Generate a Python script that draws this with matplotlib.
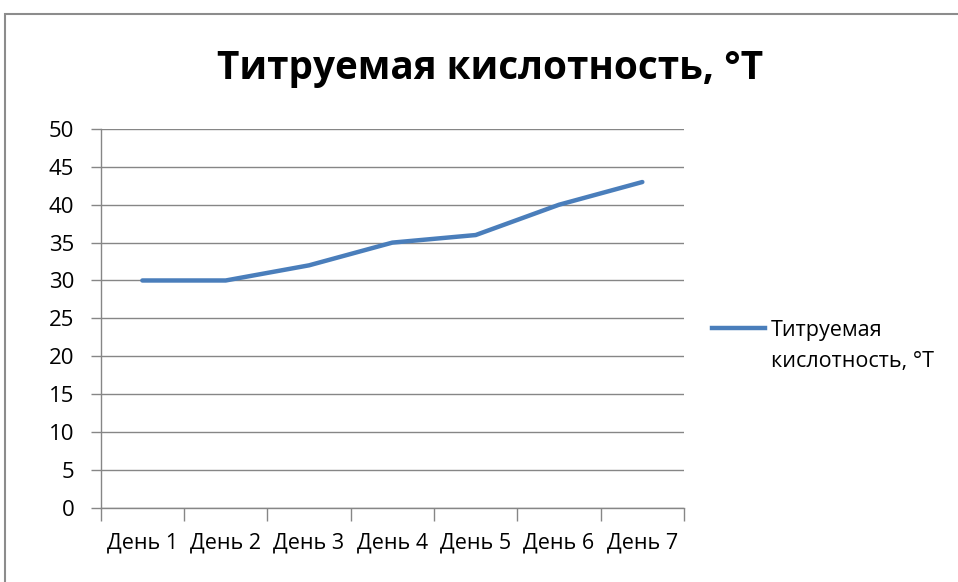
import numpy as np
import matplotlib.pyplot as plt
from matplotlib.patches import Rectangle
from matplotlib import font_manager

# titratable acidity over a week
days = ["День 1", "День 2", "День 3", "День 4", "День 5", "День 6", "День 7"]
acidity = [30, 30, 32, 35, 36, 40, 43]
series_name = "Титруемая\nкислотность, °Т"
title = "Титруемая кислотность, °Т"
yticks = list(range(0, 55, 5))

names = {f.name for f in font_manager.fontManager.ttflist}
body_font = "Open Sans" if "Open Sans" in names else "DejaVu Sans"
plt.rcParams['font.family'] = [body_font, 'DejaVu Sans']

grey = "#868686"
blue = "#4A7EBB"

fig = plt.figure(figsize=(9.58, 5.82), dpi=100)
W, H = 958, 582

# chart frame, runs off the right and bottom edge
fig.patches.append(Rectangle((5 / W, -0.05), 1.1, 1 - 14 / H + 0.05,
                             transform=fig.transFigure, fill=False,
                             edgecolor="#8c8c8c", linewidth=1.5))

ax = fig.add_axes([100.7 / W, 1 - 507.7 / H, (684 - 100.7) / W, (507.7 - 129) / H])
x = np.arange(len(days))
line, = ax.plot(x, acidity, color=blue, linewidth=3.2, solid_capstyle="round",
                solid_joinstyle="round")

ax.set_xlim(-0.5, len(days) - 0.5)
ax.set_ylim(0, 50)
ax.set_yticks(yticks)
ax.set_xticks(x)
ax.set_xticklabels(days)
ax.set_xticks(np.arange(-0.5, len(days)), minor=True)
ax.yaxis.grid(True, color=grey, linewidth=1)
ax.set_axisbelow(True)

for side in ("top", "right"):
    ax.spines[side].set_visible(False)
for side in ("left", "bottom"):
    ax.spines[side].set_color(grey)
    ax.spines[side].set_linewidth(1)

ax.tick_params(axis="y", length=7, width=1, color=grey, pad=12,
               labelsize=16, labelcolor="#000000")
ax.tick_params(axis="x", which="major", length=0, pad=18,
               labelsize=15.5, labelcolor="#000000")
ax.tick_params(axis="x", which="minor", length=9, width=1, color=grey)

fig.text(490 / W, 1 - 68 / H, title, ha="center", va="center",
         fontsize=27.8, fontweight="bold")

# legend drawn by hand, line + two-line label
fig.lines.append(plt.Line2D([712 / W, 765 / W], [1 - 328 / H] * 2,
                            transform=fig.transFigure, color=blue, linewidth=3.2))
fig.text(771 / W, 1 - 346 / H, series_name, ha="left", va="center",
         fontsize=15.5, linespacing=1.65)

fig.savefig("out.png", dpi=100)
